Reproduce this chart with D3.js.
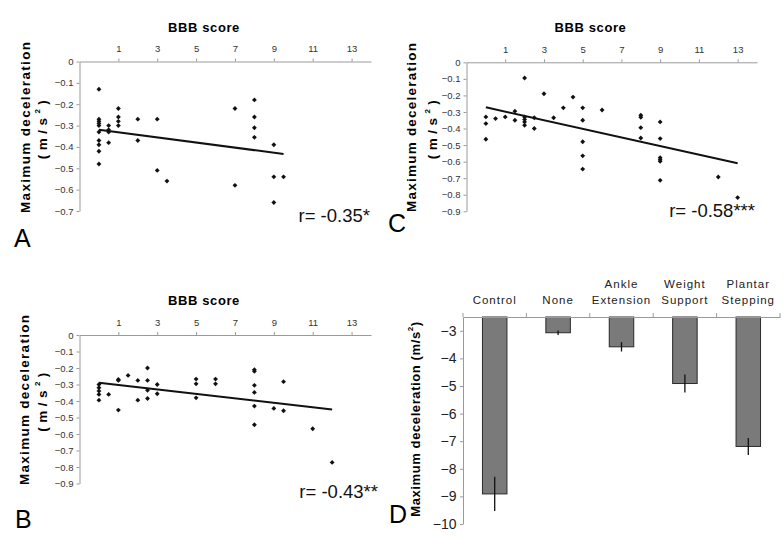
<!DOCTYPE html>
<html><head><meta charset="utf-8">
<script src="https://cdn.jsdelivr.net/npm/d3@7"></script>
<style>
body{margin:0;background:#fff}
text{font-family:"Liberation Sans",Arial,sans-serif}
.tick text{font-family:"Liberation Sans Narrow","Liberation Sans",sans-serif}
</style>
</head><body>
<svg id="c" width="783" height="537"></svg>
<script>
// ---------- data ----------
const bbbTicks = [1, 3, 5, 7, 9, 11, 13];
const yTicksA = [0, -0.1, -0.2, -0.3, -0.4, -0.5, -0.6, -0.7];
const yTicksBC = [0, -0.1, -0.2, -0.3, -0.4, -0.5, -0.6, -0.7, -0.8, -0.9];

const scoreA = [0,0,0,0,0,0,0,0,0,0, 0.5,0.5,0.5,0.5, 1,1,1,1, 2,2, 3,3, 3.5, 7,7, 8,8,8,8, 9,9,9, 9.5];
const decelA = [-0.13,-0.27,-0.28,-0.29,-0.30,-0.33,-0.37,-0.39,-0.42,-0.48,
                -0.30,-0.32,-0.33,-0.38, -0.22,-0.26,-0.28,-0.30, -0.27,-0.37,
                -0.27,-0.51, -0.56, -0.22,-0.58, -0.18,-0.26,-0.31,-0.355, -0.39,-0.54,-0.66, -0.54];
const fitA = [[0, -0.32], [9.5, -0.433]];

const scoreB = [0,0,0,0,0, 0.5, 1,1,1, 1.5, 2,2, 2.5,2.5,2.5,2.5, 3,3, 5,5,5, 6,6, 8,8,8,8,8,8, 9, 9.5,9.5, 11, 12];
const decelB = [-0.30,-0.32,-0.34,-0.36,-0.395, -0.36, -0.27,-0.275,-0.455, -0.245, -0.275,-0.395,
                -0.20,-0.275,-0.335,-0.385, -0.30,-0.356, -0.267,-0.296,-0.381, -0.267,-0.296,
                -0.21,-0.22,-0.305,-0.348,-0.431,-0.544, -0.445, -0.283,-0.459, -0.568, -0.772];
const fitB = [[0, -0.29], [12, -0.451]];

const scoreC = [0,0,0, 0.5, 1, 1.5,1.5, 2,2,2,2,2, 2.5,2.5, 3, 3.5, 4, 4.5, 5,5,5,5,5, 6, 8,8,8,8, 9,9,9,9,9,9, 12, 13];
const decelC = [-0.33,-0.37,-0.465, -0.34, -0.33, -0.295,-0.35, -0.095,-0.33,-0.345,-0.36,-0.38,
                -0.335,-0.40, -0.19, -0.335, -0.275, -0.21, -0.275,-0.35,-0.48,-0.565,-0.645,
                -0.288, -0.32,-0.332,-0.395,-0.457, -0.36,-0.461,-0.576,-0.588,-0.598,-0.713, -0.693, -0.817];
const fitC = [[0, -0.272], [13, -0.61]];

const groups = ["Control", "None", "Ankle Extension", "Weight Support", "Plantar Stepping"];
const meanD = [-8.91, -3.07, -3.58, -4.91, -7.19];
const errD = [0.62, 0.08, 0.17, 0.33, 0.31];
const yTicksD = [-3, -4, -5, -6, -7, -8, -9, -10];

// ---------- drawing ----------
const svg = d3.select("#c");
const AXC = "#9a9a9a", TXC = "#333";
const diamond = d3.symbolDiamond2 || d3.symbolDiamond;

function yTitle(cx, cy, len1, len2, gap) {
  const g = svg.append("g");
  g.append("text").attr("transform", `translate(${cx},${cy}) rotate(-90)`)
    .attr("text-anchor", "middle").attr("dominant-baseline", "central")
    .attr("font-weight", "bold").attr("font-size", 13.5)
    .attr("textLength", len1).attr("lengthAdjust", "spacing")
    .text("Maximum deceleration");
  const t = g.append("text").attr("transform", `translate(${cx + gap},${cy}) rotate(-90)`)
    .attr("text-anchor", "middle").attr("dominant-baseline", "central")
    .attr("font-weight", "bold").attr("font-size", 13.5).attr("letter-spacing", 4.5);
  t.append("tspan").text("(m/s");
  t.append("tspan").attr("dy", -5).attr("font-size", 8).text("2");
  t.append("tspan").attr("dy", 5).text(")");
}

function scatter(cfg) {
  const x = d3.scaleLinear().domain([-1, 14]).range([cfg.left, cfg.right]);
  const y = d3.scaleLinear().domain([cfg.yMin, 0]).range([cfg.bottom, cfg.top]);
  const g = svg.append("g");
  const ax = g.append("g").attr("transform", `translate(0,${cfg.top})`)
    .call(d3.axisTop(x).tickValues(bbbTicks).tickSizeInner(3).tickSizeOuter(0).tickPadding(6.5).tickFormat(d3.format("d")));
  const ay = g.append("g").attr("transform", `translate(${cfg.left},0)`)
    .call(d3.axisLeft(y).tickValues(cfg.yTicks).tickSizeInner(3).tickSizeOuter(0).tickPadding(3).tickFormat(d3.format(".1~f")));
  [ax, ay].forEach(a => {
    a.select(".domain").attr("stroke", AXC);
    a.selectAll(".tick line").attr("stroke", AXC);
    a.selectAll(".tick text").attr("fill", TXC).attr("font-size", 9.5);
  });
  g.append("text").attr("x", cfg.titleX).attr("y", cfg.titleY).attr("text-anchor", "middle")
    .attr("font-weight", "bold").attr("font-size", 13).attr("letter-spacing", 0.6).text("BBB score");
  // fit line
  g.append("path").datum(cfg.fit)
    .attr("d", d3.line().x(d => x(d[0])).y(d => y(d[1])))
    .attr("fill", "none").attr("stroke", "#111").attr("stroke-width", 2);
  // points
  g.selectAll(".pt").data(cfg.xs).join("path")
    .attr("transform", (d, i) => `translate(${x(d)},${y(cfg.ys[i])})`)
    .attr("d", d3.symbol().type(diamond).size(15))
    .attr("fill", "#111");
  g.append("text").attr("x", cfg.rX).attr("y", cfg.rY).attr("text-anchor", "end")
    .attr("font-size", 18.5).attr("fill", "#111").text(cfg.r);
  g.append("text").attr("x", cfg.lX).attr("y", cfg.lY).attr("font-size", 25).text(cfg.letter);
}

scatter({left: 79.5, right: 371, top: 61.5, bottom: 211, yMin: -0.7, yTicks: yTicksA,
  xs: scoreA, ys: decelA, fit: fitA, titleX: 204, titleY: 32,
  r: "r= -0.35*", rX: 370, rY: 222, letter: "A", lX: 14, lY: 247});
yTitle(25, 127.5, 171, 57, 17);

scatter({left: 79.5, right: 371, top: 335, bottom: 483.5, yMin: -0.9, yTicks: yTicksBC,
  xs: scoreB, ys: decelB, fit: fitB, titleX: 204, titleY: 305,
  r: "r= -0.43**", rX: 378, rY: 498, letter: "B", lX: 15, lY: 528});
yTitle(24, 400, 170, 57, 18);

scatter({left: 466.5, right: 757, top: 62.3, bottom: 211.3, yMin: -0.9, yTicks: yTicksBC,
  xs: scoreC, ys: decelC, fit: fitC, titleX: 590.5, titleY: 32,
  r: "r= -0.58***", rX: 755, rY: 216.7, letter: "C", lX: 388, lY: 232});
yTitle(411.5, 127.5, 169, 57, 20);

// ---------- panel D ----------
(function () {
  const x = d3.scaleBand().domain(groups).range([463, 780]).padding(0);
  const y = d3.scaleLinear().domain([-10, -2.5]).range([524, 317]);
  const g = svg.append("g");
  const bw = 24.5;
  g.selectAll(".bar").data(groups).join("rect")
    .attr("x", d => x(d) + x.bandwidth() / 2 - bw / 2)
    .attr("y", y(-2.5))
    .attr("width", bw)
    .attr("height", (d, i) => y(meanD[i]) - y(-2.5))
    .attr("fill", "#7a7a7a").attr("stroke", "#2a2a2a").attr("stroke-width", 1);
  g.selectAll(".err").data(groups).join("line")
    .attr("x1", d => x(d) + x.bandwidth() / 2).attr("x2", d => x(d) + x.bandwidth() / 2)
    .attr("y1", (d, i) => y(meanD[i] + errD[i])).attr("y2", (d, i) => y(meanD[i] - errD[i]))
    .attr("stroke", "#111").attr("stroke-width", 1.3);
  // top axis
  const ax = g.append("g").attr("transform", `translate(0,${y(-2.5)})`)
    .call(d3.axisTop(x).tickSize(0).tickFormat(""));
  ax.select(".domain").attr("stroke", AXC);
  g.selectAll(".bt").data(groups.concat(["_end"])).join("line")
    .attr("x1", d => d === "_end" ? x.range()[1] : x(d))
    .attr("x2", d => d === "_end" ? x.range()[1] : x(d))
    .attr("y1", y(-2.5)).attr("y2", y(-2.5) - 4).attr("stroke", AXC);
  groups.forEach(gr => {
    const parts = gr.split(" ");
    const cx = x(gr) + x.bandwidth() / 2;
    const lines = parts.length === 1 ? [[parts[0], 304]] : [[parts[0], 288], [parts[1], 304]];
    lines.forEach(([t, yy]) => g.append("text").attr("x", cx).attr("y", yy)
      .attr("text-anchor", "middle").attr("font-size", 11.5).attr("letter-spacing", 1)
      .attr("fill", "#222").text(t));
  });
  const ay = g.append("g").attr("transform", `translate(463,0)`)
    .call(d3.axisLeft(y).tickValues(yTicksD).tickSizeInner(3).tickSizeOuter(0).tickPadding(3.5).tickFormat(d3.format("d")));
  ay.select(".domain").attr("stroke", AXC);
  ay.selectAll(".tick line").attr("stroke", AXC);
  ay.selectAll(".tick text").attr("fill", "#222").attr("font-size", 14).attr("font-family", "Liberation Sans, Arial, sans-serif");
  const t = g.append("text").attr("transform", `translate(415,419) rotate(-90)`)
    .attr("text-anchor", "middle").attr("dominant-baseline", "central")
    .attr("font-weight", "bold").attr("font-size", 13).attr("letter-spacing", 0.6);
  t.append("tspan").text("Maximum deceleration (m/s");
  t.append("tspan").attr("dy", -5).attr("font-size", 8).text("2");
  t.append("tspan").attr("dy", 5).text(")");
  g.append("text").attr("x", 389).attr("y", 523).attr("font-size", 25).text("D");
})();
</script>
</body></html>
